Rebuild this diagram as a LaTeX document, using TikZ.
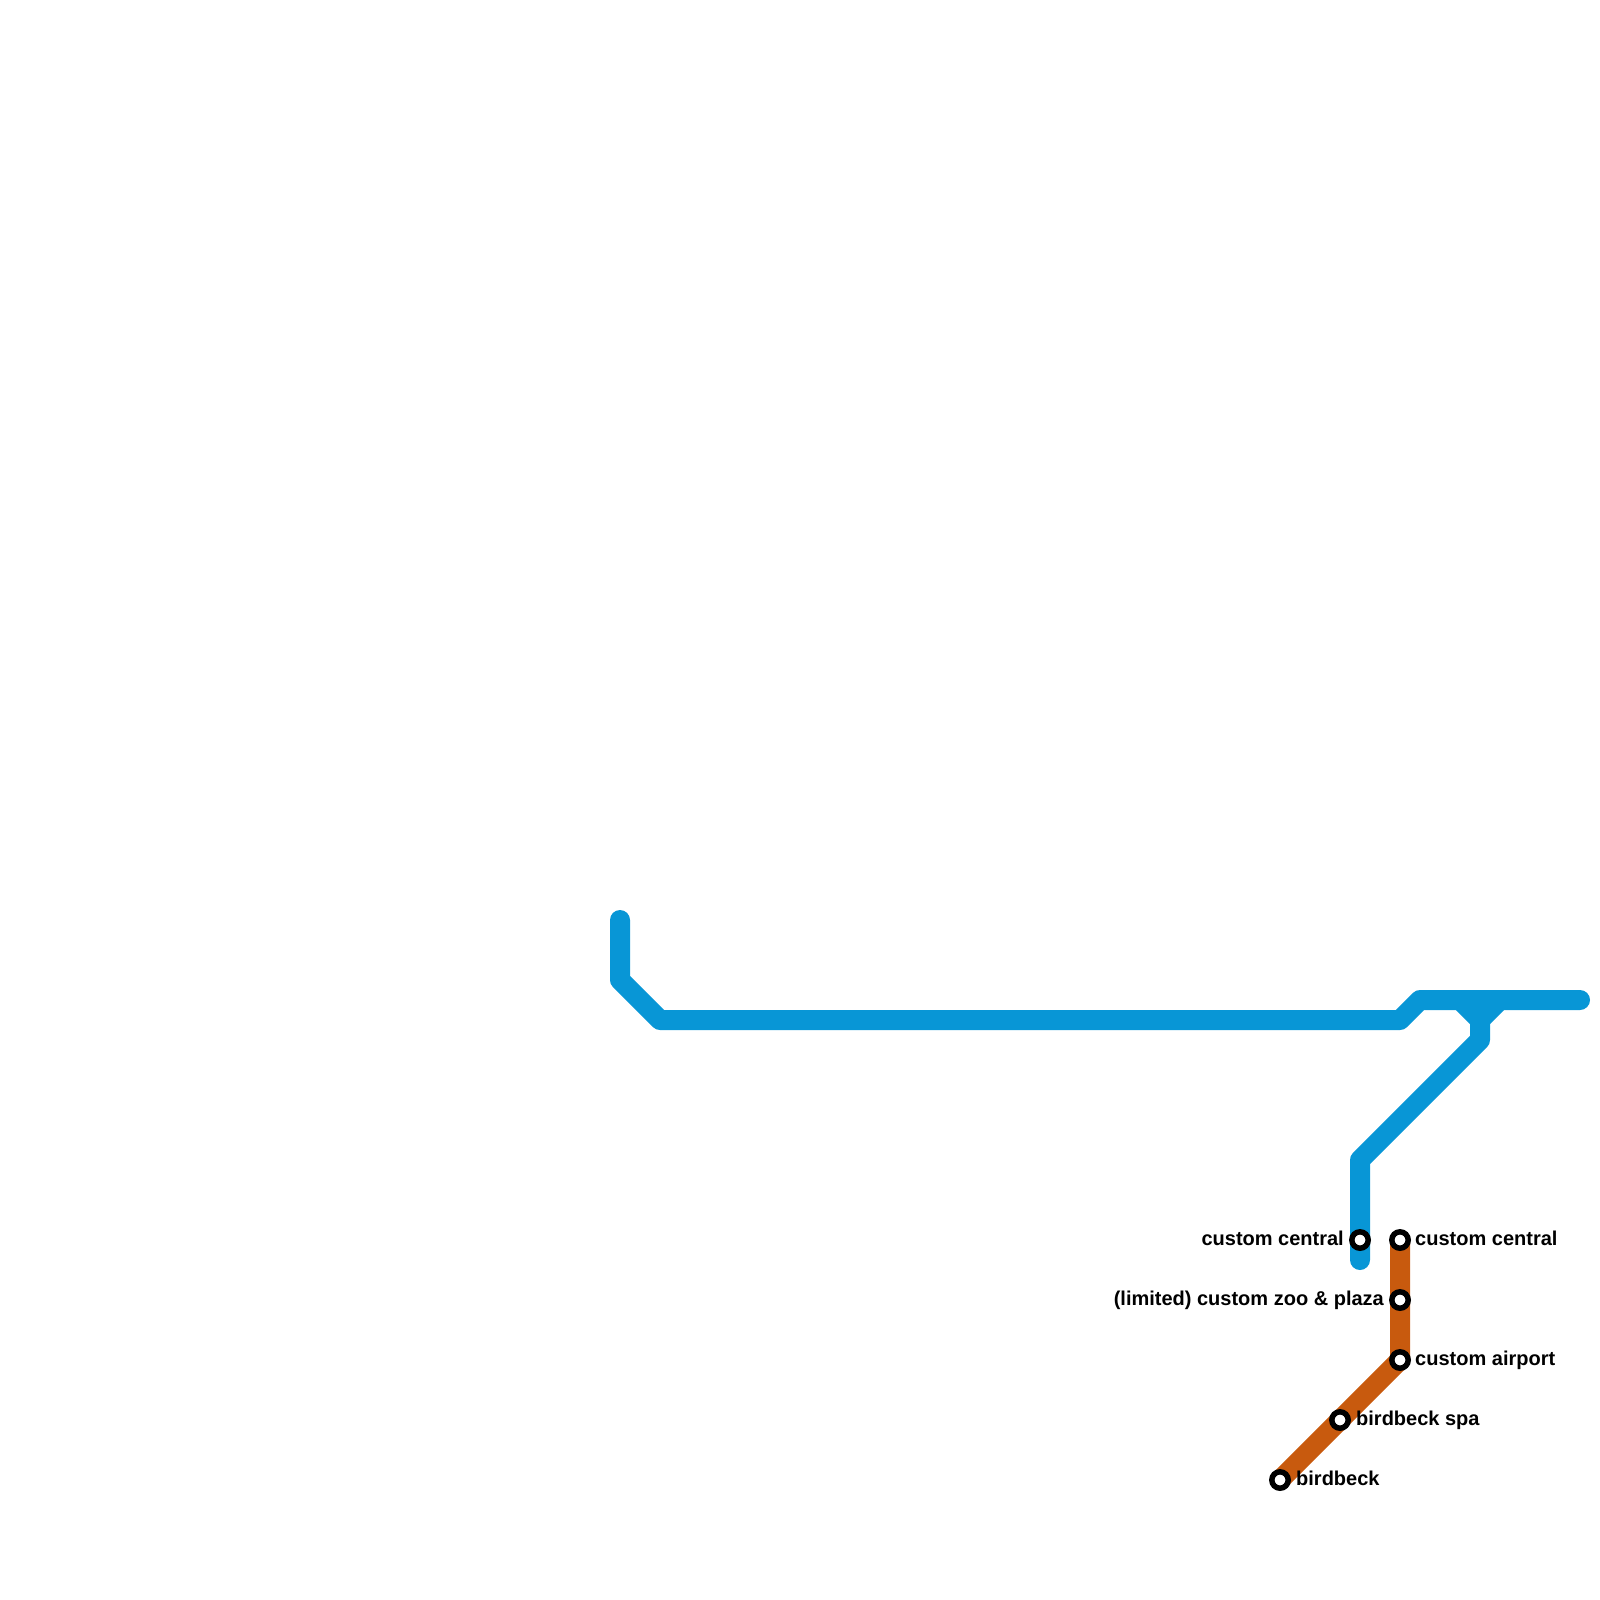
\documentclass[tikz,border=0pt]{standalone}
\usepackage{fontspec}
\setmainfont{Liberation Sans}
\definecolor{lineblue}{RGB}{8,150,214}
\definecolor{lineorange}{RGB}{200,90,14}
\begin{document}
\begin{tikzpicture}[x=1pt,y=-1pt,
  bluel/.style={draw=lineblue,line width=20pt,line cap=round,line join=round},
  orangel/.style={draw=lineorange,line width=20pt,line cap=round,line join=round},
  stn/.style={circle,draw=black,fill=white,line width=5.5pt,minimum size=16.4pt,inner sep=0pt},
  lbl/.style={font=\fontsize{20}{24}\selectfont\bfseries,inner sep=0pt}]
\useasboundingbox (0,0) rectangle (1600,1600);
% blue line points
\coordinate (b1) at (620,920);
\coordinate (b2) at (620,980);
\coordinate (b3) at (660,1020);
\coordinate (b4) at (1400,1020);
\coordinate (b5) at (1420,1000);
\coordinate (b6) at (1580,1000);
\coordinate (y1) at (1460,1000);
\coordinate (y2) at (1500,1000);
\coordinate (yj) at (1480,1020);
\coordinate (c1) at (1480,1040);
\coordinate (c2) at (1360,1160);
\coordinate (c3) at (1360,1260);
\draw[bluel] (b1) -- (b2) -- (b3) -- (b4) -- (b5) -- (b6);
\draw[bluel] (y1) -- (yj) -- (c1) -- (c2) -- (c3);
\draw[bluel] (y2) -- (yj);
% orange line
\coordinate (o1) at (1400,1240);
\coordinate (o2) at (1400,1360);
\coordinate (o3) at (1280,1480);
\draw[orangel] (o1) -- (o2) -- (o3);
% stations
\node[stn] (sbc) at (1360,1240) {};
\node[stn] (occ) at (1400,1240) {};
\node[stn] (zoo) at (1400,1300) {};
\node[stn] (air) at (1400,1360) {};
\node[stn] (spa) at (1340,1420) {};
\node[stn] (bb) at (1280,1480) {};
% labels
\node[lbl,anchor=base east] (lsbc) at (1344,1245) {custom central};
\node[lbl,anchor=base west] (locc) at (1415,1245) {custom central};
\node[lbl,anchor=base east] (lzoo) at (1384,1305) {(limited) custom zoo \& plaza};
\node[lbl,anchor=base west] (lair) at (1415,1365) {custom airport};
\node[lbl,anchor=base west] (lspa) at (1356,1425) {birdbeck spa};
\node[lbl,anchor=base west] (lbb) at (1296,1485) {birdbeck};
\end{tikzpicture}
\end{document}
